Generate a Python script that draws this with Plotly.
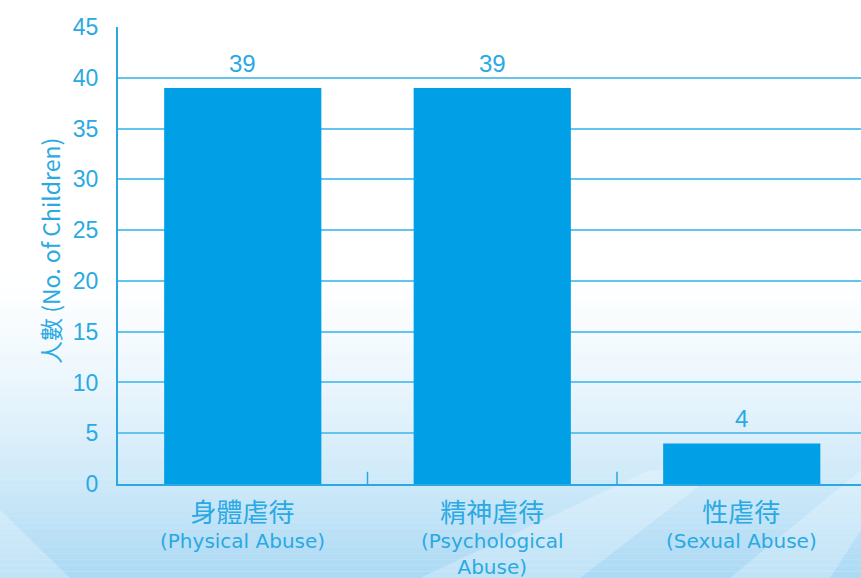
import plotly.graph_objects as go

# Data
labels_cn = ["身體虐待", "精神虐待", "性虐待"]
labels_en = ["(Physical Abuse)", "(Psychological<br>Abuse)", "(Sexual Abuse)"]
counts = [39, 39, 4]
y_ticks = [0, 5, 10, 15, 20, 25, 30, 35, 40, 45]

BLUE_TEXT = "#2aa9e3"
BAR_BLUE = "#009fe6"
GRID_BLUE = "#63c5ef"
AXIS_BLUE = "#2ba8e2"
NUM_FONT = "Liberation Sans, Arial, sans-serif"
WIDE_FONT = "DejaVu Sans, sans-serif"
CJK_FONT = "Noto Sans CJK TC, sans-serif"

W, H = 861, 578
L, T, B, R = 118, 27, 94, 0

x_pos = list(range(len(counts)))

fig = go.Figure()
fig.add_trace(go.Bar(
    x=x_pos,
    y=counts,
    marker=dict(color=BAR_BLUE, line=dict(width=0)),
    width=0.63,
))


def px_to_paper(x, y):
    return (x - L) / (W - L - R), (H - B - y) / (H - T - B)


# soft vertical background gradient towards the bottom of the page
shapes = []
n = 50
top_px, bot_px = 270, 578
for i in range(n):
    y0 = top_px + (bot_px - top_px) * i / n
    y1 = top_px + (bot_px - top_px) * (i + 1) / n
    frac = (i + 0.5) / n
    shapes.append(dict(
        type="rect", xref="paper", yref="paper", layer="below",
        x0=-L / (W - L - R) - 0.01, x1=1.01,
        y0=px_to_paper(0, y1)[1], y1=px_to_paper(0, y0)[1],
        fillcolor="rgb(120,195,238)", opacity=0.62 * frac ** 1.4,
        line=dict(width=0),
    ))

# faint diagonal light bands
for pts in ([(420, 578), (580, 578), (720, 470), (650, 470)],
            [(730, 578), (830, 578), (861, 530), (861, 470)],
            [(0, 510), (70, 578), (0, 578)]):
    path = "M " + " L ".join(
        f"{px_to_paper(x, y)[0]},{px_to_paper(x, y)[1]}" for x, y in pts) + " Z"
    shapes.append(dict(type="path", xref="paper", yref="paper", layer="below",
                       path=path, fillcolor="white", opacity=0.25, line=dict(width=0)))

# small separator ticks between categories
for b in (0.5, 1.5):
    shapes.append(dict(type="line", xref="x", yref="y", x0=b, x1=b, y0=0, y1=1.2,
                       line=dict(color=AXIS_BLUE, width=1.5)))

annotations = []
# value labels above bars
for xi, v in zip(x_pos, counts):
    annotations.append(dict(
        x=xi, y=v, xref="x", yref="y", text=str(v), showarrow=False,
        yanchor="bottom", yshift=9,
        font=dict(family=NUM_FONT, size=24, color=BLUE_TEXT),
    ))
# category labels: Chinese line (larger CJK type) over English line(s)
for xi, cn, en in zip(x_pos, labels_cn, labels_en):
    text = (f"<span style='font-family:Noto Sans CJK TC;font-size:26px'>{cn}</span>"
            f"<br>{en}")
    annotations.append(dict(
        x=xi, y=0, xref="x", yref="y", text=text, showarrow=False,
        yanchor="top", yshift=-6,
        font=dict(family=WIDE_FONT, size=20, color=BLUE_TEXT),
    ))
# y-axis title
tx, ty = px_to_paper(31, 251)
annotations.append(dict(
    text="人數 (No. of Children)", xref="paper", yref="paper",
    x=tx, y=ty, textangle=-90, showarrow=False,
    font=dict(family="Noto Sans CJK TC, DejaVu Sans, sans-serif", size=23, color=BLUE_TEXT),
))

fig.update_layout(
    width=W, height=H,
    margin=dict(l=L, r=R, t=T, b=B),
    paper_bgcolor="white",
    plot_bgcolor="rgba(0,0,0,0)",
    showlegend=False,
    shapes=shapes,
    annotations=annotations,
    xaxis=dict(
        range=[-0.5, 2.478],
        showticklabels=False,
        showgrid=False,
        showline=True, linecolor=AXIS_BLUE, linewidth=2,
        ticks="",
        zeroline=False,
    ),
    yaxis=dict(
        range=[0, 45],
        tickvals=y_ticks,
        tickfont=dict(family=NUM_FONT, size=23, color=BLUE_TEXT),
        showgrid=True, gridcolor=GRID_BLUE, gridwidth=1.5,
        showline=True, linecolor=AXIS_BLUE, linewidth=2,
        ticks="", ticklabelstandoff=13,
        zeroline=False,
    ),
)

fig.write_html("out.html")
